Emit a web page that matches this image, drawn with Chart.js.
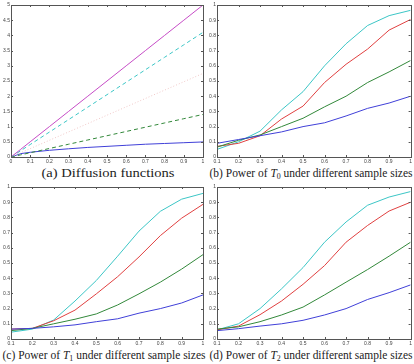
<!DOCTYPE html>
<html>
<head>
<meta charset="utf-8">
<script src="https://cdn.jsdelivr.net/npm/chart.js@4.4.1/dist/chart.umd.min.js"></script>
<style>
  body { margin: 0; background: #fff; width: 414px; height: 364px; overflow: hidden; }
  .panel { position: absolute; }
  .cap {
    position: absolute; width: 207px; height: 16px; line-height: 16px;
    font-family: "Liberation Serif", "DejaVu Serif", serif; font-size: 13px;
    color: #222; white-space: nowrap;
  }
  .cap span { position: absolute; left: 50%; top: 0; transform-origin: center center; }
  .cap i { font-style: italic; }
  .cap sub { font-size: 9px; vertical-align: -2px; line-height: 0; }
</style>
</head>
<body>
<canvas id="chartA" class="panel" width="207" height="165" style="left:0;top:0"></canvas>
<canvas id="chartB" class="panel" width="207" height="165" style="left:207px;top:0"></canvas>
<canvas id="chartC" class="panel" width="207" height="165" style="left:0;top:182px"></canvas>
<canvas id="chartD" class="panel" width="207" height="165" style="left:207px;top:182px"></canvas>
<div class="cap" style="left:4px;top:165px"><span data-w="133">(a) Diffusion functions</span></div>
<div class="cap" style="left:207px;top:165px"><span data-w="203">(b) Power of <i>T</i><sub>0</sub> under different sample sizes</span></div>
<div class="cap" style="left:0;top:347px"><span data-w="203">(c) Power of <i>T</i><sub>1</sub> under different sample sizes</span></div>
<div class="cap" style="left:207px;top:347px"><span data-w="203">(d) Power of <i>T</i><sub>2</sub> under different sample sizes</span></div>
<script>
// (a) diffusion functions
const diffX = [0, 0.05, 0.1, 0.2, 0.3, 0.4, 0.5, 0.6, 0.7, 0.8, 0.9, 1];
const diffMagenta = [0, 0.25, 0.5, 1, 1.5, 2, 2.5, 3, 3.5, 4, 4.5, 5];
const diffCyan = [0, 0.205, 0.41, 0.82, 1.23, 1.64, 2.05, 2.46, 2.87, 3.28, 3.69, 4.1];
const diffPink = [0, 0.14, 0.275, 0.55, 0.825, 1.1, 1.375, 1.65, 1.925, 2.2, 2.475, 2.75];
const diffGreen = [0, 0.07, 0.14, 0.28, 0.42, 0.56, 0.7, 0.84, 0.98, 1.12, 1.26, 1.4];
const diffBlue = [0, 0.11, 0.155, 0.22, 0.27, 0.315, 0.35, 0.385, 0.42, 0.445, 0.47, 0.495];

// sample sizes (x) for the power panels
const sizeX = [0.1, 0.2, 0.3, 0.4, 0.5, 0.6, 0.7, 0.8, 0.9, 1];

// (b) power of T0
const t0Blue = [0.09, 0.115, 0.14, 0.165, 0.2, 0.225, 0.27, 0.32, 0.355, 0.4];
const t0Green = [0.065, 0.11, 0.145, 0.2, 0.255, 0.33, 0.4, 0.49, 0.56, 0.635];
const t0Red = [0.07, 0.09, 0.14, 0.25, 0.335, 0.49, 0.61, 0.71, 0.835, 0.905];
const t0Cyan = [0.05, 0.1, 0.17, 0.31, 0.43, 0.6, 0.745, 0.865, 0.93, 0.965];

// (c) power of T1
const t1Blue = [0.065, 0.07, 0.08, 0.093, 0.114, 0.133, 0.17, 0.2, 0.237, 0.29];
const t1Green = [0.055, 0.07, 0.1, 0.13, 0.165, 0.224, 0.297, 0.374, 0.46, 0.555];
const t1Red = [0.065, 0.07, 0.12, 0.19, 0.297, 0.41, 0.54, 0.68, 0.795, 0.886];
const t1Cyan = [0.045, 0.065, 0.125, 0.25, 0.385, 0.545, 0.71, 0.84, 0.92, 0.958];

// (d) power of T2
const t2Blue = [0.055, 0.068, 0.085, 0.1, 0.123, 0.158, 0.2, 0.26, 0.305, 0.356];
const t2Green = [0.065, 0.08, 0.114, 0.158, 0.21, 0.29, 0.374, 0.457, 0.545, 0.637];
const t2Red = [0.06, 0.085, 0.16, 0.25, 0.36, 0.483, 0.637, 0.747, 0.842, 0.9];
const t2Cyan = [0.06, 0.1, 0.2, 0.33, 0.47, 0.637, 0.77, 0.88, 0.934, 0.97];

const BLUE = "#4040d8";
const GREEN = "#32883a";
const RED = "#e04040";
const CYAN = "#3cc6c6";
const MAGENTA = "#c64cc6";
const PINK = "#f0c8c8";

function points(xs, ys) {
  return xs.map((x, i) => ({ x: x, y: ys[i] }));
}

function line(xs, ys, color, dash) {
  return {
    data: points(xs, ys),
    borderColor: color,
    borderWidth: 1,
    borderDash: dash || [],
    pointRadius: 0,
    tension: 0,
    fill: false
  };
}

// matlab style box with inward ticks on all four sides
const boxTicks = {
  id: "boxTicks",
  afterDatasetsDraw(chart) {
    const ctx = chart.ctx;
    const a = chart.chartArea;
    const xs = chart.scales.x;
    const ys = chart.scales.y;
    const len = 2;
    ctx.save();
    ctx.setLineDash([]);
    ctx.globalAlpha = 1;
    ctx.strokeStyle = "#555";
    ctx.lineWidth = 1;
    ctx.strokeRect(Math.round(a.left) + 0.5, Math.round(a.top) + 0.5,
      Math.round(a.right - a.left), Math.round(a.bottom - a.top));
    ctx.beginPath();
    xs.ticks.forEach(t => {
      const px = Math.round(xs.getPixelForValue(t.value)) + 0.5;
      ctx.moveTo(px, a.bottom);
      ctx.lineTo(px, a.bottom - len);
      ctx.moveTo(px, a.top);
      ctx.lineTo(px, a.top + len);
    });
    ys.ticks.forEach(t => {
      const py = Math.round(ys.getPixelForValue(t.value)) + 0.5;
      ctx.moveTo(a.left, py);
      ctx.lineTo(a.left + len, py);
      ctx.moveTo(a.right, py);
      ctx.lineTo(a.right - len, py);
    });
    ctx.stroke();
    ctx.restore();
  }
};

// 0.5 -> "0.5", 1.0 -> "1"
function tickText(v) {
  return String(Number(v.toFixed(2)));
}

function makeChart(id, datasets, xMin, yMax, yStep, leftW, rightPad) {
  const tickFont = { family: "Liberation Sans", size: 5 };
  return new Chart(document.getElementById(id), {
    type: "line",
    data: { datasets: datasets },
    options: {
      responsive: false,
      animation: false,
      events: [],
      layout: { padding: { top: 5, right: rightPad, bottom: 0, left: 0 } },
      plugins: { legend: { display: false }, tooltip: { enabled: false } },
      scales: {
        x: {
          type: "linear",
          min: xMin,
          max: 1,
          grid: { display: false, drawTicks: false, tickLength: 0 },
          border: { display: true, color: "#555", width: 1 },
          ticks: { stepSize: 0.1, font: tickFont, color: "#444", padding: 2, maxRotation: 0, autoSkip: false, callback: tickText },
          afterFit: s => { s.height = 8; }
        },
        y: {
          type: "linear",
          min: 0,
          max: yMax,
          grid: { display: false, drawTicks: false, tickLength: 0 },
          border: { display: true, color: "#555", width: 1 },
          ticks: { stepSize: yStep, font: tickFont, color: "#444", padding: 1, autoSkip: false, callback: tickText },
          afterFit: s => { s.width = leftW; }
        }
      }
    },
    plugins: [boxTicks]
  });
}

makeChart("chartA", [
  line(diffX, diffMagenta, MAGENTA),
  line(diffX, diffCyan, CYAN, [4, 3]),
  line(diffX, diffPink, PINK, [1, 2]),
  line(diffX, diffGreen, GREEN, [4, 3]),
  line(diffX, diffBlue, BLUE)
], 0, 5, 0.5, 11, 4);

makeChart("chartB", [
  line(sizeX, t0Blue, BLUE),
  line(sizeX, t0Green, GREEN),
  line(sizeX, t0Red, RED),
  line(sizeX, t0Cyan, CYAN)
], 0.1, 1, 0.1, 10, 3);

makeChart("chartC", [
  line(sizeX, t1Blue, BLUE),
  line(sizeX, t1Green, GREEN),
  line(sizeX, t1Red, RED),
  line(sizeX, t1Cyan, CYAN)
], 0.1, 1, 0.1, 11, 4);

makeChart("chartD", [
  line(sizeX, t2Blue, BLUE),
  line(sizeX, t2Green, GREEN),
  line(sizeX, t2Red, RED),
  line(sizeX, t2Cyan, CYAN)
], 0.1, 1, 0.1, 10, 3);

// centre captions and stretch them to the width they take in the reference
document.querySelectorAll(".cap span").forEach(el => {
  const w = el.getBoundingClientRect().width;
  const target = Number(el.dataset.w);
  const k = w > 0 ? (target / w).toFixed(3) : 1;
  el.style.transform = "translateX(-50%) scaleX(" + k + ")";
});
</script>
</body>
</html>
